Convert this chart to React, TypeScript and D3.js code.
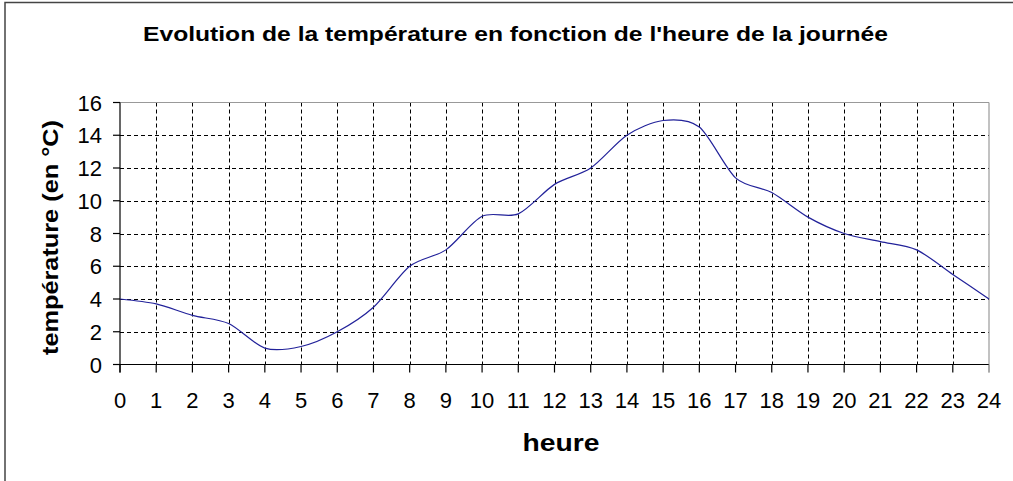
import React from "react";
import * as d3 from "d3";

const hours = [0,1,2,3,4,5,6,7,8,9,10,11,12,13,14,15,16,17,18,19,20,21,22,23,24];
const temperatures = [4,3.7,3,2.5,1,1.1,2,3.5,6,7,9.05,9.2,11,12,14,14.9,14.5,11.4,10.5,9,8,7.5,7,5.5,4];
const yTicks = [0,2,4,6,8,10,12,14,16];
const xTicks = hours;
const title = "Evolution de la température en fonction de l'heure de la journée";
const xTitle = "heure";
const yTitle = "température (en °C)";

const W = 1013, H = 481;
const left = 120, right = 989, top = 102.5, bottom = 364.5;
const FONT = "'Liberation Sans', Arial, sans-serif";

export default function App() {
  const x = d3.scaleLinear().domain([0, 24]).range([left, right]);
  const y = d3.scaleLinear().domain([0, 16]).range([bottom, top]);
  const line = d3.line<number>()
    .x((_, i) => x(hours[i]))
    .y((d) => y(d))
    .curve(d3.curveCardinal.tension(0.15));
  const path = line(temperatures) || "";
  return (
    <svg width={W} height={H} style={{ position: "fixed", left: 0, top: 0, background: "#fff" }}>
      <rect x={0} y={0} width={W} height={H} fill="#fff" />
      <rect x={5} y={2.5} width={W + 10} height={H + 10} fill="none" stroke="#444" strokeWidth={1.5} />
      <text x={143} y={41} textLength={745} lengthAdjust="spacingAndGlyphs" fontFamily={FONT} fontWeight="bold" fontSize={19.5} fill="#000">{title}</text>
      {/* grid */}
      {yTicks.filter((t) => t > 0 && t < 16).map((t) => (
        <line key={"gy" + t} x1={left} x2={right} y1={Math.round(y(t)) + 0.5} y2={Math.round(y(t)) + 0.5} stroke="#000" strokeWidth={1} strokeDasharray="4,3" />
      ))}
      {xTicks.filter((t) => t > 0 && t < 24).map((t) => (
        <line key={"gx" + t} x1={Math.round(x(t)) + 0.5} x2={Math.round(x(t)) + 0.5} y1={top} y2={bottom} stroke="#000" strokeWidth={1} strokeDasharray="4,3" />
      ))}
      {/* plot border */}
      <line x1={left} x2={right} y1={top} y2={top} stroke="#999" strokeWidth={1.2} />
      <line x1={right} x2={right} y1={top} y2={bottom + 8} stroke="#999" strokeWidth={1.2} />
      {/* axes */}
      <line x1={left} x2={left} y1={top} y2={bottom + 8} stroke="#000" strokeWidth={1.2} />
      <line x1={left - 7} x2={right} y1={bottom} y2={bottom} stroke="#000" strokeWidth={1.2} />
      {yTicks.map((t) => (
        <g key={"yt" + t}>
          <line x1={left - 7} x2={left} y1={y(t)} y2={y(t)} stroke="#000" strokeWidth={1.2} />
          <text x={102} y={y(t) + 8} textAnchor="end" fontFamily={FONT} fontSize={22} fill="#000">{t}</text>
        </g>
      ))}
      {xTicks.map((t) => (
        <g key={"xt" + t}>
          <line x1={x(t)} x2={x(t)} y1={bottom} y2={bottom + 8} stroke={t === 24 ? "#999" : "#000"} strokeWidth={1.2} />
          <text x={x(t)} y={408} textAnchor="middle" fontFamily={FONT} fontSize={22} fill="#000">{t}</text>
        </g>
      ))}
      <path d={path} fill="none" stroke="#22229a" strokeWidth={1.2} />
      <text x={522.5} y={450.5} textLength={77} lengthAdjust="spacingAndGlyphs" fontFamily={FONT} fontWeight="bold" fontSize={23.5} fill="#000">{xTitle}</text>
      <text transform={`translate(57.5,355) rotate(-90)`} textLength={235} lengthAdjust="spacingAndGlyphs" fontFamily={FONT} fontWeight="bold" fontSize={22} fill="#000">{yTitle}</text>
    </svg>
  );
}
